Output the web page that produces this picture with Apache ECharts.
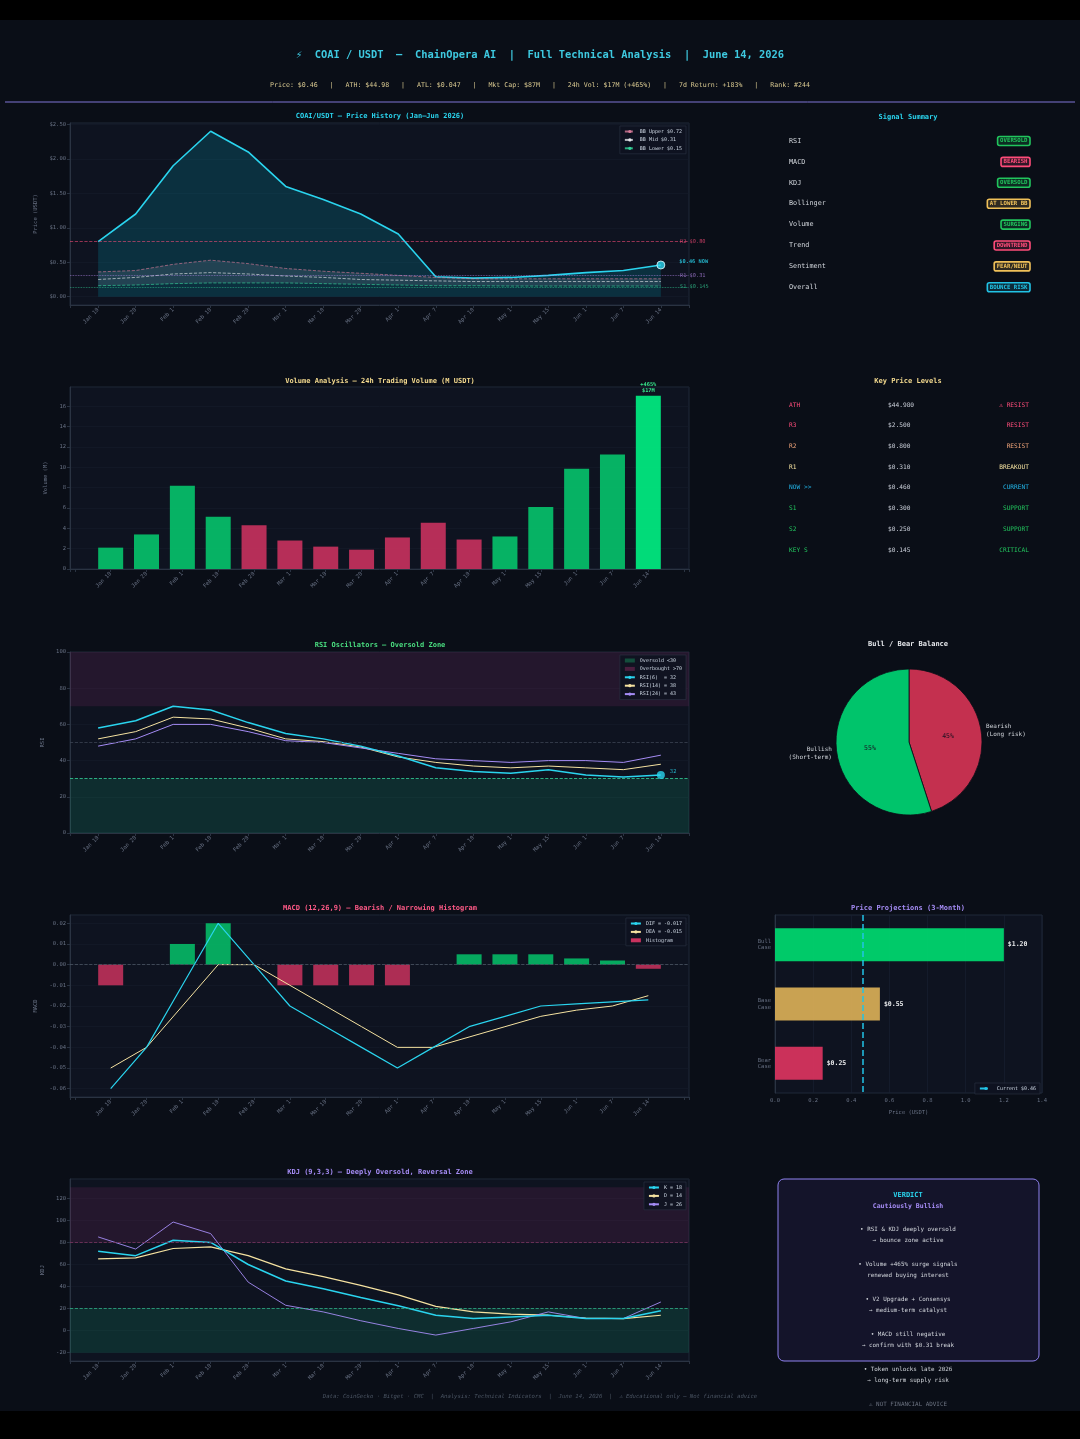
<!DOCTYPE html>
<html>
<head>
<meta charset="utf-8">
<title>COAI / USDT — Technical Analysis</title>
<script src="https://cdn.jsdelivr.net/npm/echarts@6/dist/echarts.min.js"></script>
<style>
  html, body { margin: 0; padding: 0; background: #000; }
  #chart {
    width: 1080px; height: 1439px;
    background: linear-gradient(#000 0, #000 20px, #0a0e17 20px, #0a0e17 1411px, #000 1411px);
  }
</style>
</head>
<body>
<div id="chart"></div>
<script>
// ---- data ----
const dates = ['Jan 10', 'Jan 20', 'Feb 1', 'Feb 10', 'Feb 20', 'Mar 1', 'Mar 10', 'Mar 20',
  'Apr 1', 'Apr 7', 'Apr 10', 'May 1', 'May 15', 'Jun 1', 'Jun 7', 'Jun 14']

const price = [0.80, 1.20, 1.90, 2.40, 2.10, 1.60, 1.41, 1.20, 0.91, 0.29, 0.27, 0.28, 0.31, 0.35, 0.38, 0.46]
const bbUpper = [0.36, 0.38, 0.47, 0.53, 0.48, 0.41, 0.37, 0.34, 0.31, 0.28, 0.26, 0.26, 0.26, 0.26, 0.26, 0.26]
const bbMid = [0.25, 0.28, 0.33, 0.35, 0.33, 0.30, 0.28, 0.25, 0.24, 0.23, 0.22, 0.22, 0.22, 0.22, 0.22, 0.22]
const bbLower = [0.16, 0.17, 0.19, 0.20, 0.20, 0.20, 0.19, 0.18, 0.17, 0.16, 0.16, 0.155, 0.155, 0.155, 0.155, 0.155]
const bbNames = ['BB Upper $0.72', 'BB Mid $0.31', 'BB Lower $0.15']
const priceLevelNames = ['R2 $0.80', 'R1 $0.31', 'S1 $0.145']
const priceLevelValues = [0.80, 0.31, 0.145]
const nowLabel = '$0.46 NOW'

const volume = [2.1, 3.4, 8.2, 5.15, 4.3, 2.8, 2.2, 1.9, 3.1, 4.55, 2.9, 3.2, 6.1, 9.85, 11.25, 17.05]
const volumeUp = [1, 1, 1, 1, 0, 0, 0, 0, 0, 0, 0, 1, 1, 1, 1, 1]
const volumeNote = '+465%\n$17M'

const rsi6 = [58, 62, 70, 68, 61, 55, 52, 48, 42.5, 36, 34, 33, 35, 32, 31, 32]
const rsi14 = [52, 56, 64, 63, 58, 52, 50.5, 47.5, 42, 39, 37, 36, 37, 36, 35, 38]
const rsi24 = [48, 52, 60, 60, 56, 51, 50, 47, 44, 41, 40, 39, 40, 40, 39, 43]
const rsiNames = ['RSI(6)  = 32', 'RSI(14) = 38', 'RSI(24) = 43']

const dif = [-0.06, -0.04, -0.01, 0.02, 0.0, -0.02, -0.03, -0.04, -0.05, -0.04, -0.03, -0.025, -0.02, -0.019, -0.018, -0.017]
const dea = [-0.05, -0.04, -0.02, 0.0, 0.0, -0.01, -0.02, -0.03, -0.04, -0.04, -0.035, -0.03, -0.025, -0.022, -0.02, -0.015]
const macdHist = [-0.01, 0, 0.01, 0.02, 0, -0.01, -0.01, -0.01, -0.01, 0, 0.005, 0.005, 0.005, 0.003, 0.002, -0.002]
const macdNames = ['DIF = -0.017', 'DEA = -0.015', 'Histogram']

const kLine = [72, 68, 82, 80, 60, 45, 38, 30, 22.5, 14, 11, 12.5, 14, 11, 11, 18]
const dLine = [65, 66, 74.5, 76, 68, 56, 49, 41, 32.5, 22, 17, 15, 14, 11.5, 11, 14]
const jLine = [85, 74, 98.5, 88, 44, 23, 17, 9, 2, -4, 2, 8, 17, 11, 11, 26]
const kdjNames = ['K = 18', 'D = 14', 'J = 26']

const projCases = ['Bull\nCase', 'Base\nCase', 'Bear\nCase']
const projValues = [1.20, 0.55, 0.25]
const currentPrice = 0.46

const pieNames = ['Bearish\n(Long risk)', 'Bullish\n(Short-term)']
const pieValues = [45, 55]

const signalNames = ['RSI', 'MACD', 'KDJ', 'Bollinger', 'Volume', 'Trend', 'Sentiment', 'Overall']
const signalStates = ['OVERSOLD', 'BEARISH', 'OVERSOLD', 'AT LOWER BB', 'SURGING', 'DOWNTREND', 'FEAR/NEUT', 'BOUNCE RISK']

const levelLabels = ['ATH', 'R3', 'R2', 'R1', 'NOW >>', 'S1', 'S2', 'KEY S']
const levelPrices = [44.98, 2.5, 0.8, 0.31, 0.46, 0.30, 0.25, 0.145]
const levelStatus = ['⚠ RESIST', 'RESIST', 'RESIST', 'BREAKOUT', 'CURRENT', 'SUPPORT', 'SUPPORT', 'CRITICAL']

const verdictLines = [
  '• RSI & KDJ deeply oversold', '→ bounce zone active', '',
  '• Volume +465% surge signals', 'renewed buying interest', '',
  '• V2 Upgrade + Consensys', '→ medium-term catalyst', '',
  '• MACD still negative', '→ confirm with $0.31 break', '',
  '• Token unlocks late 2026', '→ long-term supply risk', '',
  '⚠ NOT FINANCIAL ADVICE'
]

const headTitle = '⚡  COAI / USDT  —  ChainOpera AI  |  Full Technical Analysis  |  June 14, 2026'
const headStats = 'Price: $0.46   |   ATH: $44.98   |   ATL: $0.047   |   Mkt Cap: $87M   |   24h Vol: $17M (+465%)   |   7d Return: +183%   |   Rank: #244'
const footer = 'Data: CoinGecko · Bitget · CMC  |  Analysis: Technical Indicators  |  June 14, 2026  |  ⚠ Educational only — Not financial advice'

// ---- styling helpers ----
const mono = '"DejaVu Sans Mono", monospace'
const axisGrey = '#2a3342'
const labelGrey = '#687184'
const plotBg = '#0e1320'
const cyan = '#2ad4ee'
const cream = '#f5e2a0'
const purple = '#a58cf5'
const green = '#05c46b'
const red = '#c9325e'

const xy = (arr) => arr.map((v, i) => [i, v])

function dateAxis(gi, pad) {
  return {
    type: 'value', gridIndex: gi, min: -pad, max: 15 + pad, splitNumber: 16,
    axisLine: { onZero: false, lineStyle: { color: axisGrey } },
    axisTick: { length: 3, lineStyle: { color: axisGrey } },
    splitLine: { show: false },
    axisLabel: {
      rotate: 45, fontSize: 5.5, color: labelGrey, fontFamily: mono, margin: 4,
      formatter: (v) => (Number.isInteger(v) && dates[v]) ? dates[v] : ''
    }
  }
}

function valueAxis(gi, min, max, split, name, gap, fmt, hideMin, hideMax) {
  return {
    type: 'value', gridIndex: gi, min: min, max: max, splitNumber: split,
    name: name, nameLocation: 'middle', nameGap: gap,
    nameTextStyle: { fontSize: 5.5, color: labelGrey, fontFamily: mono },
    axisLine: { show: true, onZero: false, lineStyle: { color: axisGrey } },
    axisTick: { show: true, length: 3, lineStyle: { color: axisGrey } },
    splitLine: { show: true, lineStyle: { color: '#151c2a', width: 0.6 } },
    axisLabel: {
      fontSize: 5.5, color: labelGrey, fontFamily: mono, margin: 4,
      showMinLabel: !hideMin, showMaxLabel: !hideMax,
      formatter: fmt
    }
  }
}

function legendBox(right, top, names) {
  return {
    orient: 'vertical', right: right, top: top, data: names,
    itemWidth: 10, itemHeight: 4, itemGap: 3.4, padding: [3, 4],
    backgroundColor: 'rgba(14,19,32,0.9)', borderColor: '#2b3444', borderWidth: 0.6,
    textStyle: { fontSize: 5, color: '#cbd5e1', fontFamily: mono }
  }
}

function hLine(value, color, type) {
  return { yAxis: value, lineStyle: { color: color, type: type || 'dashed', width: 0.8 }, label: { show: false } }
}

// ---- graphic texts ----
const gfx = []
function txt(x, y, text, fill, size, align, weight, extra) {
  gfx.push({
    type: 'text', x: x, y: y, silent: true, z: 100,
    style: Object.assign({
      text: text, fill: fill,
      font: (weight || 'normal') + ' ' + size + 'px ' + mono,
      align: align || 'left', textAlign: align || 'left',
      verticalAlign: 'middle', textVerticalAlign: 'middle'
    }, extra || {})
  })
}

txt(540, 55, headTitle, '#3ec9e0', 10.4, 'center', 'bold')
txt(540, 85, headStats, '#d8c890', 6.6, 'center')
gfx.push({ type: 'line', silent: true, shape: { x1: 5, y1: 102, x2: 1075, y2: 102 }, style: { stroke: '#7f74d6', lineWidth: 1 } })

txt(380, 116, 'COAI/USDT — Price History (Jan–Jun 2026)', cyan, 7, 'center', 'bold')
txt(380, 381, 'Volume Analysis — 24h Trading Volume (M USDT)', '#f3d98e', 7, 'center', 'bold')
txt(380, 645, 'RSI Oscillators — Oversold Zone', '#4ade80', 7, 'center', 'bold')
txt(380, 908, 'MACD (12,26,9) — Bearish / Narrowing Histogram', '#ff5a87', 7, 'center', 'bold')
txt(380, 1172, 'KDJ (9,3,3) — Deeply Oversold, Reversal Zone', purple, 7, 'center', 'bold')
txt(908, 117, 'Signal Summary', cyan, 7, 'center', 'bold')
txt(908, 381, 'Key Price Levels', '#f3d98e', 7, 'center', 'bold')
txt(908, 644, 'Bull / Bear Balance', '#e5e7eb', 7, 'center', 'bold')
txt(908, 908, 'Price Projections (3-Month)', purple, 7, 'center', 'bold')

// signal summary
const stateColor = { OVERSOLD: '#22c55e', SURGING: '#22c55e', BEARISH: '#ff4d7a', DOWNTREND: '#ff4d7a',
  'AT LOWER BB': '#f0c15a', 'FEAR/NEUT': '#f0c15a', 'BOUNCE RISK': '#22c3e6' }
const stateFill = { OVERSOLD: 'rgba(34,197,94,0.16)', SURGING: 'rgba(34,197,94,0.16)', BEARISH: 'rgba(255,77,122,0.16)',
  DOWNTREND: 'rgba(255,77,122,0.16)', 'AT LOWER BB': 'rgba(240,193,90,0.16)', 'FEAR/NEUT': 'rgba(240,193,90,0.16)',
  'BOUNCE RISK': 'rgba(34,195,230,0.16)' }
signalNames.forEach((n, k) => {
  const y = 141 + k * 20.9
  txt(789, y, n, '#d1d5db', 6.8)
  const s = signalStates[k]
  txt(1030, y, s, stateColor[s], 5.7, 'right', 'bold', {
    backgroundColor: stateFill[s], borderColor: stateColor[s], borderWidth: 0.8,
    borderRadius: 2, padding: [1.5, 2.5]
  })
})

// key price levels
const levelColors = ['#ff4d7a', '#ff4d7a', '#f2a57a', cream, '#22b5e8', '#22c55e', '#22c55e', '#22c55e']
levelLabels.forEach((n, k) => {
  const y = 405 + k * 20.7
  txt(789, y, n, levelColors[k], 6.2)
  txt(888, y, '$' + levelPrices[k].toFixed(3), '#c9ced8', 6.2)
  txt(1029, y, levelStatus[k], levelColors[k], 6.2, 'right')
})

// verdict box
gfx.push({
  type: 'rect', silent: true, z: 90,
  shape: { x: 778, y: 1179, width: 261, height: 182, r: 6 },
  style: { fill: '#14142a', stroke: '#8f82f0', lineWidth: 1 }
})
txt(908, 1195, 'VERDICT', cyan, 7, 'center', 'bold')
txt(908, 1206, 'Cautiously Bullish', purple, 6.5, 'center', 'bold')
verdictLines.forEach((l, k) => {
  if (!l) return
  const last = k === verdictLines.length - 1
  txt(908, 1229 + k * 11.67, l, last ? '#6b7280' : '#d1d5db', 5.9, 'center')
})
txt(540, 1397, footer, '#4b5563', 5.6, 'center', 'normal', { font: 'italic 5.6px ' + mono })

// ---- chart ----
const chart = echarts.init(document.getElementById('chart'))

const grid = [
  { left: 70, top: 123, width: 619, height: 182 },
  { left: 70, top: 387, width: 619, height: 182 },
  { left: 70, top: 652, width: 619, height: 181 },
  { left: 70, top: 915, width: 619, height: 182 },
  { left: 70, top: 1179, width: 619, height: 182 },
  { left: 775, top: 915, width: 267, height: 178 }
].map(g => Object.assign({ show: true, backgroundColor: plotBg, borderColor: '#1f2838', borderWidth: 1 }, g))

const money2 = (v) => '$' + v.toFixed(2)

const option = {
  animation: false,
  backgroundColor: 'transparent',
  textStyle: { fontFamily: mono },
  grid: grid,
  xAxis: [
    dateAxis(0, 0.75),
    dateAxis(1, 1.135),
    dateAxis(2, 0.75),
    dateAxis(3, 1.135),
    dateAxis(4, 0.75),
    {
      type: 'value', gridIndex: 5, min: 0, max: 1.4, interval: 0.2,
      name: 'Price (USDT)', nameLocation: 'middle', nameGap: 17,
      nameTextStyle: { fontSize: 5.5, color: labelGrey, fontFamily: mono },
      axisLine: { onZero: false, lineStyle: { color: axisGrey } },
      axisTick: { length: 3, lineStyle: { color: axisGrey } },
      splitLine: { show: true, lineStyle: { color: '#1a2233', width: 0.6 } },
      axisLabel: { fontSize: 5.5, color: labelGrey, fontFamily: mono, margin: 5, formatter: (v) => v.toFixed(1) }
    }
  ],
  yAxis: [
    valueAxis(0, -0.12, 2.52, 5, 'Price (USDT)', 26, money2, true, true),
    valueAxis(1, 0, 17.9, 9, 'Volume (M)', 20, null, false, true),
    valueAxis(2, 0, 100, null, 'RSI', 20, null, false, false),
    valueAxis(3, -0.064, 0.024, 9, 'MACD', 28, (v) => v.toFixed(2), true, true),
    valueAxis(4, -27.5, 137.5, 8, 'KDJ', 20, null, true, true),
    {
      type: 'category', gridIndex: 5, data: projCases, inverse: true,
      axisLine: { onZero: false, lineStyle: { color: axisGrey } },
      axisTick: { length: 3, alignWithLabel: true, lineStyle: { color: axisGrey } },
      axisLabel: { fontSize: 5.5, color: labelGrey, fontFamily: mono, margin: 4, lineHeight: 6.5, align: 'right' }
    }
  ],
  legend: [
    legendBox(394, 126, bbNames),
    legendBox(394, 655, [
      { name: 'Oversold <30', icon: 'rect' }, { name: 'Overbought >70', icon: 'rect' },
      rsiNames[0], rsiNames[1], rsiNames[2]
    ]),
    legendBox(394, 918, [macdNames[0], macdNames[1], { name: macdNames[2], icon: 'rect' }]),
    legendBox(394, 1182, kdjNames),
    Object.assign(legendBox(40, 1083, ['Current $0.46']), { itemWidth: 12 })
  ],
  graphic: { elements: gfx },
  series: [
    // ---- price ----
    {
      type: 'custom', name: 'bbBand', xAxisIndex: 0, yAxisIndex: 0, silent: true, z: 2,
      data: bbUpper.map((v, i) => [i, v, bbLower[i]]),
      encode: { x: 0, y: [1, 2] },
      renderItem: (params, api) => {
        if (params.dataIndex !== 0) return null
        const pts = bbUpper.map((v, i) => api.coord([i, v]))
        for (let i = bbLower.length - 1; i >= 0; i--) pts.push(api.coord([i, bbLower[i]]))
        return { type: 'polygon', shape: { points: pts }, style: { fill: 'rgba(190,190,215,0.13)' } }
      }
    },
    {
      type: 'line', name: 'COAI', xAxisIndex: 0, yAxisIndex: 0, data: xy(price), symbol: 'none', z: 1,
      lineStyle: { color: cyan, width: 1.6 }, itemStyle: { color: cyan },
      areaStyle: { color: 'rgba(0,188,212,0.25)' },
      markLine: {
        silent: true, symbol: ['none', 'none'],
        data: priceLevelValues.map((v, k) => ({
          yAxis: v,
          lineStyle: { color: ['#ff4d7a', '#b98af0', '#34d399'][k], type: k === 0 ? 'dashed' : 'dotted', width: 0.8, opacity: 0.7 },
          label: {
            show: true, position: 'end', distance: -9, formatter: priceLevelNames[k],
            color: ['#ff4d7a', '#b98af0', '#34d399'][k], fontSize: 5.3, fontFamily: mono, padding: [0, 0, 5, 0]
          }
        }))
      }
    },
    { type: 'line', name: bbNames[0], xAxisIndex: 0, yAxisIndex: 0, data: xy(bbUpper), symbol: 'none', z: 3,
      lineStyle: { color: '#d77a98', type: 'dashed', width: 0.8, opacity: 0.8 }, itemStyle: { color: '#d77a98' } },
    { type: 'line', name: bbNames[1], xAxisIndex: 0, yAxisIndex: 0, data: xy(bbMid), symbol: 'none', z: 3,
      lineStyle: { color: '#e5e7eb', type: 'dashed', width: 0.8, opacity: 0.8 }, itemStyle: { color: '#e5e7eb' } },
    { type: 'line', name: bbNames[2], xAxisIndex: 0, yAxisIndex: 0, data: xy(bbLower), symbol: 'none', z: 3,
      lineStyle: { color: '#34d399', type: 'dashed', width: 0.8, opacity: 0.8 }, itemStyle: { color: '#34d399' } },
    {
      type: 'scatter', xAxisIndex: 0, yAxisIndex: 0, z: 5, silent: true,
      data: [[15, price[15]]], symbolSize: 8,
      itemStyle: { color: cyan, borderColor: '#e6fbff', borderWidth: 1 },
      label: { show: true, position: 'right', distance: 14, offset: [0, -3], formatter: nowLabel,
        color: cyan, fontSize: 5.3, fontWeight: 'bold', fontFamily: mono }
    },

    // ---- volume ----
    {
      type: 'bar', xAxisIndex: 1, yAxisIndex: 1, barWidth: 25,
      data: volume.map((v, i) => ({
        value: [i, v],
        itemStyle: { color: i === volume.length - 1 ? '#00f283' : (volumeUp[i] ? green : red), opacity: 0.9 },
        label: i === volume.length - 1 ? {
          show: true, position: 'top', distance: 2, formatter: volumeNote,
          color: '#3dff9a', fontSize: 5.3, fontWeight: 'bold', lineHeight: 6.3, fontFamily: mono
        } : { show: false }
      }))
    },

    // ---- RSI ----
    {
      type: 'line', name: 'Oversold <30', xAxisIndex: 2, yAxisIndex: 2, data: [],
      itemStyle: { color: '#134e3c' }, lineStyle: { color: '#134e3c' },
      markArea: { silent: true, itemStyle: { color: 'rgba(16,185,129,0.16)' }, data: [[{ yAxis: 0 }, { yAxis: 30 }]] }
    },
    {
      type: 'line', name: 'Overbought >70', xAxisIndex: 2, yAxisIndex: 2, data: [],
      itemStyle: { color: '#4a1d3e' }, lineStyle: { color: '#4a1d3e' },
      markArea: { silent: true, itemStyle: { color: 'rgba(170,50,120,0.15)' }, data: [[{ yAxis: 70 }, { yAxis: 100 }]] }
    },
    { type: 'line', name: rsiNames[0], xAxisIndex: 2, yAxisIndex: 2, data: xy(rsi6), symbol: 'none', z: 4,
      lineStyle: { color: cyan, width: 1.5 }, itemStyle: { color: cyan } },
    { type: 'line', name: rsiNames[1], xAxisIndex: 2, yAxisIndex: 2, data: xy(rsi14), symbol: 'none', z: 3,
      lineStyle: { color: cream, width: 1 }, itemStyle: { color: cream } },
    {
      type: 'line', name: rsiNames[2], xAxisIndex: 2, yAxisIndex: 2, data: xy(rsi24), symbol: 'none', z: 3,
      lineStyle: { color: purple, width: 1 }, itemStyle: { color: purple },
      markLine: { silent: true, symbol: ['none', 'none'], data: [
        hLine(30, '#34d399'), hLine(50, '#3b4352')
      ] }
    },
    {
      type: 'scatter', xAxisIndex: 2, yAxisIndex: 2, z: 5, silent: true,
      data: [[15, rsi6[15]]], symbolSize: 8, itemStyle: { color: cyan },
      label: { show: true, position: 'right', distance: 5, offset: [0, -4], formatter: String(rsi6[15]),
        color: cyan, fontSize: 5.5, fontFamily: mono }
    },

    // ---- MACD ----
    {
      type: 'bar', name: macdNames[2], xAxisIndex: 3, yAxisIndex: 3, barWidth: 25,
      itemStyle: { color: red },
      data: macdHist.map((v, i) => ({ value: [i, v], itemStyle: { color: v >= 0 ? green : red, opacity: 0.85 } })),
      markLine: { silent: true, symbol: ['none', 'none'], data: [hLine(0, '#4b5563')] }
    },
    { type: 'line', name: macdNames[0], xAxisIndex: 3, yAxisIndex: 3, data: xy(dif), symbol: 'none', z: 4,
      lineStyle: { color: cyan, width: 1.2 }, itemStyle: { color: cyan } },
    { type: 'line', name: macdNames[1], xAxisIndex: 3, yAxisIndex: 3, data: xy(dea), symbol: 'none', z: 3,
      lineStyle: { color: cream, width: 1 }, itemStyle: { color: cream } },

    // ---- KDJ ----
    {
      type: 'line', name: 'kdjZones', xAxisIndex: 4, yAxisIndex: 4, data: [],
      markArea: { silent: true, data: [
        [{ yAxis: 80, itemStyle: { color: 'rgba(170,50,120,0.15)' } }, { yAxis: 130 }],
        [{ yAxis: -20, itemStyle: { color: 'rgba(16,185,129,0.16)' } }, { yAxis: 20 }]
      ] },
      markLine: { silent: true, symbol: ['none', 'none'], data: [hLine(80, '#7a3560'), hLine(20, '#2fae85')] }
    },
    { type: 'line', name: kdjNames[0], xAxisIndex: 4, yAxisIndex: 4, data: xy(kLine), symbol: 'none', z: 4,
      lineStyle: { color: cyan, width: 1.5 }, itemStyle: { color: cyan } },
    { type: 'line', name: kdjNames[1], xAxisIndex: 4, yAxisIndex: 4, data: xy(dLine), symbol: 'none', z: 3,
      lineStyle: { color: cream, width: 1.2 }, itemStyle: { color: cream } },
    { type: 'line', name: kdjNames[2], xAxisIndex: 4, yAxisIndex: 4, data: xy(jLine), symbol: 'none', z: 3,
      lineStyle: { color: purple, width: 0.9 }, itemStyle: { color: purple } },

    // ---- projections ----
    {
      type: 'bar', xAxisIndex: 5, yAxisIndex: 5, barWidth: 33,
      data: projValues.map((v, k) => ({
        value: v, itemStyle: { color: ['#00d46e', '#d4aa55', '#d6335e'][k], opacity: 0.95 }
      })),
      label: { show: true, position: 'right', distance: 4, formatter: (p) => '$' + p.value.toFixed(2),
        color: '#f3f4f6', fontSize: 6.5, fontWeight: 'bold', fontFamily: mono }
    },
    {
      type: 'line', name: 'Current $0.46', xAxisIndex: 5, yAxisIndex: 5, data: [], symbol: 'none',
      lineStyle: { color: '#22c3e6', type: 'dashed', width: 1.5 }, itemStyle: { color: '#22c3e6' },
      markLine: { silent: true, symbol: ['none', 'none'], label: { show: false },
        data: [{ xAxis: currentPrice, lineStyle: { color: '#22c3e6', type: 'dashed', width: 1.5 } }] }
    },

    // ---- pie ----
    {
      type: 'pie', center: [909, 742], radius: 73, startAngle: 90, clockwise: true, silent: true,
      data: pieNames.map((n, k) => ({ name: n, value: pieValues[k],
        itemStyle: { color: k === 0 ? '#c4304f' : '#00c46b' } })),
      itemStyle: { borderColor: '#0a0e17', borderWidth: 0.8 },
      label: { show: true, position: 'inside', formatter: (p) => p.value + '%',
        color: '#1a1020', fontSize: 6.5, fontFamily: mono },
      labelLine: { show: false }
    },
    {
      type: 'pie', center: [909, 742], radius: 73, startAngle: 90, clockwise: true, silent: true, z: 1,
      data: pieNames.map((n, k) => ({ name: n, value: pieValues[k], itemStyle: { color: 'rgba(0,0,0,0)' } })),
      label: { show: true, position: 'outside', formatter: '{b}', color: '#d1d5db', fontSize: 6,
        lineHeight: 8, fontFamily: mono, distanceToLabelLine: 2 },
      labelLine: { show: false, length: 3, length2: 0 }
    }
  ]
}

chart.setOption(option)
</script>
</body>
</html>
